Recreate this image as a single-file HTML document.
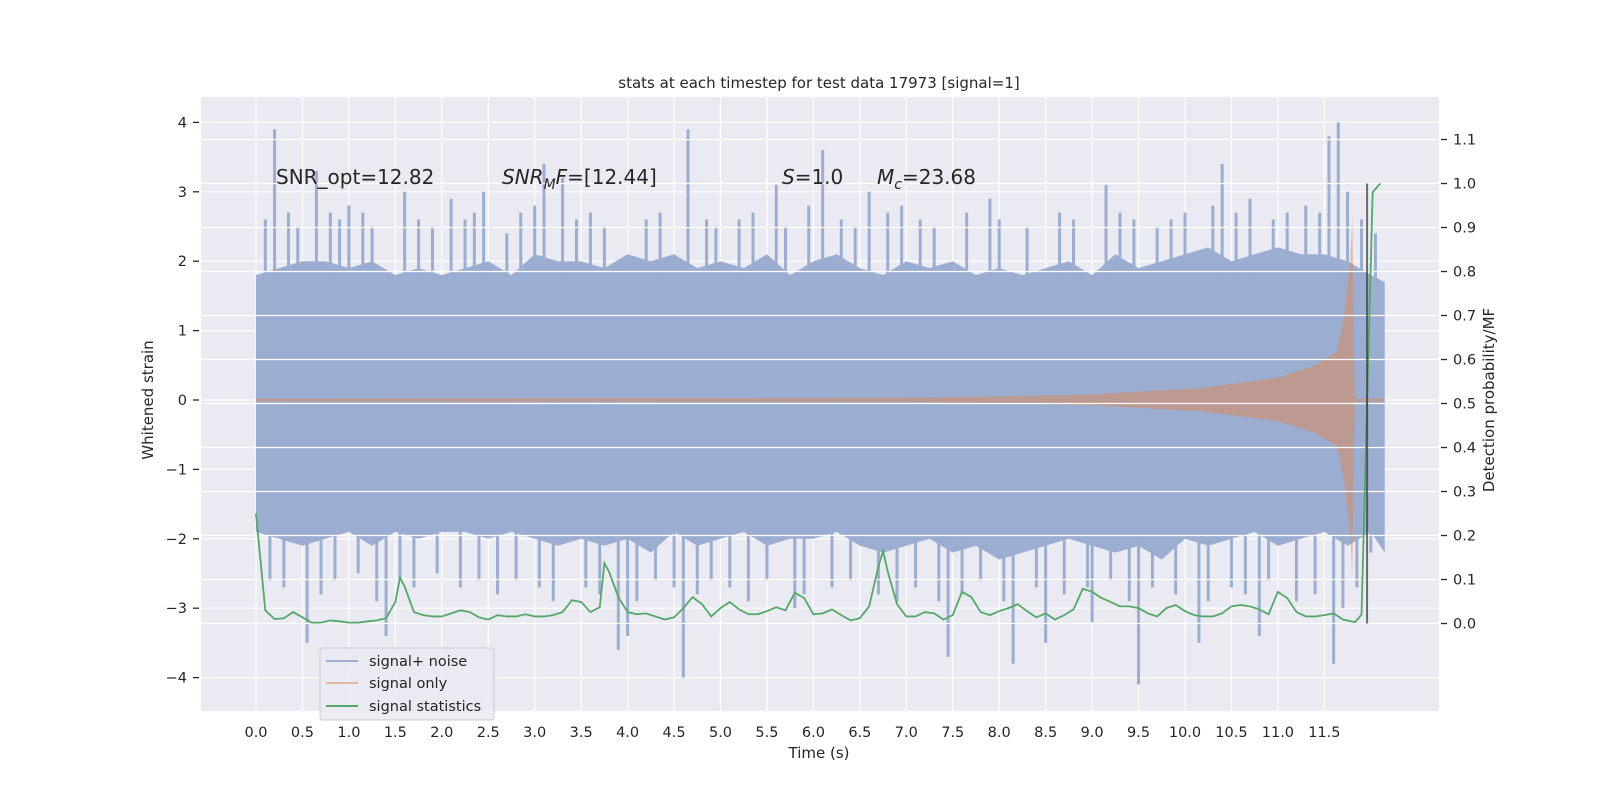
<!DOCTYPE html>
<html><head><meta charset="utf-8"><style>
html,body{margin:0;padding:0;background:#fff;}
svg{display:block;font-family:"DejaVu Sans","Liberation Sans",sans-serif;}
</style></head><body>
<svg id="chart" width="1600" height="800" viewBox="0 0 1600 800" xmlns="http://www.w3.org/2000/svg">
<rect x="201" y="97" width="1238" height="614" fill="#eaeaf2"/>
<g id="gridL"></g><g id="blue"></g><g id="orange"></g><g id="gridR"></g><g id="green"></g><g id="axes"></g>
<text x="819" y="88" text-anchor="middle" font-size="15" fill="#262626">stats at each timestep for test data 17973 [signal=1]</text>
<text x="276" y="184" font-size="20" fill="#262626">SNR_opt=12.82</text>
<text x="502" y="184" font-size="20" fill="#262626"><tspan font-style="italic">SNR</tspan><tspan font-style="italic" font-size="14" dy="5">M</tspan><tspan font-style="italic" dy="-5">F</tspan>=[12.44]</text>
<text x="782" y="184" font-size="20" fill="#262626"><tspan font-style="italic">S</tspan>=1.0</text>
<text x="877" y="184" font-size="20" fill="#262626"><tspan font-style="italic">M</tspan><tspan font-style="italic" font-size="14" dy="5">c</tspan><tspan dy="-5">=23.68</tspan></text>
<text x="819" y="758" text-anchor="middle" font-size="15" fill="#262626">Time (s)</text>
<text transform="translate(153,400) rotate(-90)" text-anchor="middle" font-size="15" fill="#262626">Whitened strain</text>
<text transform="translate(1494,400) rotate(-90)" text-anchor="middle" font-size="15" fill="#262626">Detection probability/MF</text>
<g>
<rect x="320" y="648" width="174" height="72" rx="3" fill="#eaeaf2" fill-opacity="0.85" stroke="#cccccc"/>
<line x1="326" y1="661" x2="358" y2="661" stroke="#4c72b0" stroke-opacity="0.5" stroke-width="2"/>
<text x="369" y="666" font-size="14.5" fill="#262626">signal+ noise</text>
<line x1="326" y1="683" x2="358" y2="683" stroke="#dd8452" stroke-opacity="0.5" stroke-width="2"/>
<text x="369" y="688" font-size="14.5" fill="#262626">signal only</text>
<line x1="326" y1="706" x2="358" y2="706" stroke="#55a868" stroke-width="2"/>
<text x="369" y="711" font-size="14.5" fill="#262626">signal statistics</text>
</g>
</svg>
<script>
const xTicks=[0,0.5,1,1.5,2,2.5,3,3.5,4,4.5,5,5.5,6,6.5,7,7.5,8,8.5,9,9.5,10,10.5,11,11.5];
const yTicksLeft=[-4,-3,-2,-1,0,1,2,3,4];
const yTicksRight=[0,0.1,0.2,0.3,0.4,0.5,0.6,0.7,0.8,0.9,1.0,1.1];
const noiseTimes=[0,0.25,0.5,0.75,1,1.25,1.5,1.75,2,2.25,2.5,2.75,3,3.25,3.5,3.75,4,4.25,4.5,4.75,5,5.25,5.5,5.75,6,6.25,6.5,6.75,7,7.25,7.5,7.75,8,8.25,8.5,8.75,9,9.25,9.5,9.75,10,10.25,10.5,10.75,11,11.25,11.5,11.75,12,12.15];
const noiseUpper=[1.8,1.9,2.0,2.0,1.9,2.0,1.8,1.9,1.8,1.9,2.0,1.8,2.1,2.0,2.0,1.9,2.1,2.0,2.1,1.9,2.0,1.9,2.1,1.8,2.0,2.1,1.9,1.8,2.0,1.9,2.0,1.8,1.9,1.8,1.9,2.0,1.8,2.1,1.9,2.0,2.1,2.2,2.0,2.1,2.2,2.1,2.1,2.0,1.8,1.7];
const noiseLower=[-1.9,-2.0,-2.1,-2.0,-1.9,-2.1,-1.9,-2.0,-1.9,-1.9,-2.0,-1.9,-2.0,-2.1,-2.0,-2.1,-2.0,-2.2,-1.9,-2.1,-2.0,-1.9,-2.1,-2.0,-2.0,-1.9,-2.1,-2.2,-2.1,-2.0,-2.2,-2.1,-2.3,-2.2,-2.1,-2.0,-2.1,-2.2,-2.1,-2.3,-2.0,-2.1,-2.0,-1.9,-2.1,-2.0,-1.9,-2.1,-1.9,-2.2];
const spikeTimes=[0.2,0.65,1.6,2.45,3.1,3.3,4.65,5.6,6.1,6.6,9.15,10.4,11.55,11.65,0.55,1.4,3.9,4.0,4.6,5.8,7.45,8.15,8.5,9.5,10.15,10.8,11.6,1.0,2.1,7.9,9.0,
0.1,0.35,0.45,0.8,0.9,1.15,1.25,1.75,1.9,2.25,2.35,2.7,2.85,3.0,3.45,3.6,3.75,4.2,4.35,4.85,4.95,5.2,5.35,5.7,5.95,6.3,6.45,6.8,6.95,7.15,7.3,7.65,8.0,8.3,8.65,8.8,9.3,9.45,9.7,9.85,10.0,10.3,10.55,10.7,10.95,11.1,11.3,11.45,11.75,11.9,12.05,
0.15,0.3,0.7,0.85,1.1,1.3,1.55,1.7,1.95,2.2,2.4,2.6,2.8,3.05,3.2,3.55,3.7,4.1,4.3,4.5,4.75,4.9,5.1,5.3,5.5,5.9,6.2,6.4,6.7,6.9,7.1,7.35,7.6,7.8,8.05,8.4,8.7,8.95,9.2,9.4,9.65,9.9,10.25,10.5,10.65,10.9,11.2,11.4,11.7,11.85,12.0];
const spikeValues=[3.9,3.3,3.0,3.0,3.4,3.2,3.9,3.1,3.6,3.0,3.1,3.4,3.8,4.0,-3.5,-3.4,-3.6,-3.4,-4.0,-3.0,-3.7,-3.8,-3.5,-4.1,-3.5,-3.4,-3.8,2.8,2.9,2.9,-3.2,
2.6,2.7,2.5,2.7,2.6,2.7,2.5,2.6,2.5,2.6,2.7,2.4,2.7,2.8,2.6,2.7,2.5,2.6,2.7,2.6,2.5,2.6,2.7,2.5,2.8,2.6,2.5,2.7,2.8,2.6,2.5,2.7,2.6,2.5,2.7,2.6,2.7,2.6,2.5,2.6,2.7,2.8,2.7,2.9,2.6,2.7,2.8,2.7,3.0,2.6,2.4,
-2.6,-2.7,-2.8,-2.6,-2.5,-2.9,-2.6,-2.7,-2.5,-2.7,-2.6,-2.8,-2.6,-2.7,-2.9,-2.7,-2.8,-2.9,-2.6,-2.7,-2.8,-2.6,-2.7,-2.9,-2.6,-2.8,-2.7,-2.6,-2.8,-2.9,-2.7,-2.9,-2.8,-2.6,-2.9,-2.7,-2.8,-2.7,-2.6,-2.9,-2.7,-2.8,-2.9,-2.7,-2.8,-2.6,-2.9,-2.8,-3.0,-2.7,-2.2];
const chirpTimes=[0,7,8,9,9.5,10.16,11.0,11.4,11.64,11.72,11.78,11.8,11.82,11.83,12.15];
const chirpAmp=[0.02,0.03,0.05,0.08,0.12,0.17,0.32,0.5,0.7,1.3,2.0,2.7,0.6,0.02,0.02];
const statTimes=[0,0.1,0.2,0.3,0.4,0.5,0.6,0.7,0.8,0.9,1.0,1.1,1.2,1.3,1.4,1.5,1.55,1.6,1.7,1.8,1.9,2.0,2.1,2.2,2.3,2.4,2.5,2.6,2.7,2.8,2.9,3.0,3.1,3.2,3.3,3.4,3.5,3.6,3.7,3.75,3.8,3.9,4.0,4.1,4.2,4.3,4.4,4.5,4.6,4.7,4.8,4.9,5.0,5.1,5.2,5.3,5.4,5.5,5.6,5.7,5.8,5.9,6.0,6.1,6.2,6.3,6.4,6.5,6.6,6.7,6.75,6.8,6.9,7.0,7.1,7.2,7.3,7.4,7.5,7.6,7.7,7.8,7.9,8.0,8.1,8.2,8.3,8.4,8.5,8.6,8.7,8.8,8.9,9.0,9.1,9.2,9.3,9.4,9.5,9.6,9.7,9.8,9.9,10.0,10.1,10.2,10.3,10.4,10.5,10.6,10.7,10.8,10.9,11.0,11.1,11.2,11.3,11.4,11.5,11.6,11.7,11.83,11.9,12.02,12.1];
const statValues=[0.25,0.03,0.01,0.012,0.026,0.014,0.002,0.002,0.007,0.005,0.002,0.002,0.005,0.007,0.012,0.049,0.104,0.084,0.026,0.019,0.016,0.016,0.023,0.03,0.026,0.014,0.009,0.019,0.016,0.016,0.021,0.016,0.016,0.019,0.026,0.053,0.049,0.026,0.037,0.137,0.118,0.06,0.026,0.021,0.023,0.016,0.009,0.014,0.035,0.06,0.044,0.016,0.035,0.049,0.032,0.021,0.021,0.028,0.037,0.03,0.07,0.058,0.021,0.023,0.032,0.019,0.007,0.012,0.039,0.13,0.165,0.118,0.044,0.016,0.016,0.026,0.023,0.009,0.019,0.072,0.06,0.026,0.019,0.028,0.035,0.044,0.028,0.014,0.023,0.009,0.019,0.032,0.079,0.072,0.058,0.049,0.039,0.039,0.035,0.023,0.016,0.035,0.042,0.028,0.019,0.016,0.016,0.023,0.039,0.042,0.039,0.032,0.021,0.072,0.058,0.026,0.016,0.016,0.019,0.023,0.009,0.003,0.02,0.98,1.0];
const markerTime=11.96;

const NS='http://www.w3.org/2000/svg';
const X0=201,X1=1439,Y0=97,Y1=711;
const BLUE='#9baed1';
function xS(t){return 256+92.9*t;}
function yL(v){return 400-69.4*v;}
function yR(p){return 623.5-440*p;}
function mk(tag,attrs,parent){const e=document.createElementNS(NS,tag);for(const k in attrs)e.setAttribute(k,attrs[k]);document.getElementById(parent).appendChild(e);return e;}

xTicks.forEach(t=>{const e=mk('line',{x1:xS(t),x2:xS(t),y1:Y0,y2:Y1,stroke:'#fff','stroke-width':1.2},'gridL');

});
yTicksLeft.forEach(v=>{const e=mk('line',{x1:X0,x2:X1,y1:yL(v),y2:yL(v),stroke:'#fff','stroke-width':1.2},'gridL');

});

let pts=[];
noiseTimes.forEach((t,i)=>pts.push(xS(t)+','+yL(noiseUpper[i])));
for(let i=noiseTimes.length-1;i>=0;i--)pts.push(xS(noiseTimes[i])+','+yL(noiseLower[i]));
const band=mk('polygon',{points:pts.join(' '),fill:BLUE},'blue');


spikeTimes.forEach((t,i)=>{const v=spikeValues[i];const base=v>0?1.6:-1.6;
const e=mk('line',{x1:xS(t),x2:xS(t),y1:yL(base),y2:yL(v),stroke:BLUE,'stroke-width':3},'blue');

});

let op=[];
chirpTimes.forEach((t,i)=>op.push(xS(t)+','+yL(chirpAmp[i])));
for(let i=chirpTimes.length-1;i>=0;i--)op.push(xS(chirpTimes[i])+','+yL(-chirpAmp[i]*0.95));
const ch=mk('polygon',{points:op.join(' '),fill:'#dd8452','fill-opacity':0.5},'orange');



yTicksRight.forEach(p=>{const e=mk('line',{x1:X0,x2:X1,y1:yR(p),y2:yR(p),stroke:'#fff','stroke-width':1.2},'gridR');

});

const gl=mk('polyline',{points:statTimes.map((t,i)=>xS(t)+','+yR(statValues[i])).join(' '),fill:'none',stroke:'#55a868','stroke-width':1.8},'green');


const ml=mk('line',{x1:xS(markerTime),x2:xS(markerTime),y1:yR(1.0),y2:yR(0),stroke:'#333','stroke-opacity':0.7,'stroke-width':2},'green');



xTicks.forEach(t=>{const e=mk('text',{x:xS(t),y:737,'text-anchor':'middle','font-size':14.5,fill:'#262626'},'axes');e.textContent=t.toFixed(1);

});
yTicksLeft.forEach(v=>{mk('line',{x1:193,x2:199,y1:yL(v),y2:yL(v),stroke:'#262626','stroke-width':1.3},'axes');
const e=mk('text',{x:187,y:yL(v)+5,'text-anchor':'end','font-size':14.5,fill:'#262626'},'axes');e.textContent=(v<0?'\u2212'+(-v):String(v));

});
yTicksRight.forEach(p=>{mk('line',{x1:1441,x2:1447,y1:yR(p),y2:yR(p),stroke:'#262626','stroke-width':1.3},'axes');
const e=mk('text',{x:1453,y:yR(p)+5,'font-size':14.5,fill:'#262626'},'axes');e.textContent=p.toFixed(1);

});
</script>
</body></html>
